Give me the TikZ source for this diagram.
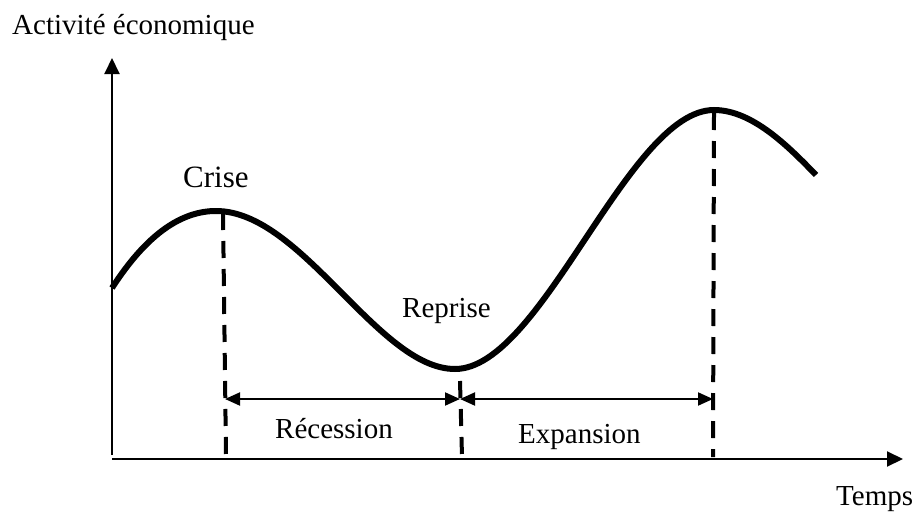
\documentclass[tikz,border=0pt]{standalone}
\usepackage{fontspec}
\setmainfont{Liberation Serif}
\usetikzlibrary{arrows.meta, positioning}
\definecolor{inkcol}{RGB}{0, 0, 0}
\tikzset{
  axis/.style      = {draw=inkcol, line width=2pt,
                      -{Triangle[length=16pt, width=15pt]}},
  cycleline/.style = {draw=inkcol, line width=6pt},
  % the turning points are dropped onto the time axis with thick dashes
  phaseline/.style = {draw=inkcol, line width=4pt,
                      dash pattern=on 17pt off 11pt},
  span/.style      = {draw=inkcol, line width=2pt,
                      {Triangle[length=15pt, width=13pt]}-{Triangle[length=15pt, width=13pt]}},
  lbl/.style       = {font=\fontsize{29}{29}\selectfont, inner sep=0pt,
                      anchor=base west},
  biglbl/.style    = {lbl, font=\fontsize{31}{31}\selectfont},
}

\begin{document}
\begin{tikzpicture}[x=1pt, y=-1pt]

  \useasboundingbox (0,0) rectangle (917,511);

  %% ---------------- the axes ----------------
  \coordinate (orig)  at (112,459);
  \coordinate (yfoot) at (112,455);
  \coordinate (ytop)  at (112,58);
  \coordinate (xend)  at (903,459);
  \draw[axis] (yfoot) -- (ytop);
  \draw[axis] (orig) -- (xend);

  \node[lbl] (ylab) at (12,35)  {Activité économique};
  \node[lbl] (xlab) at (836,505) {Temps};

  %% ---------------- the cycle ----------------
  \coordinate (start)   at (112,288);
  \coordinate (crise)   at (216,211);
  \coordinate (reprise) at (455,369);
  \coordinate (boom)    at (714,110);
  \coordinate (stop)    at (816,175);
  \draw[cycleline] (start) .. controls (148,232) and (183,211) .. (crise)
                           .. controls (302,211) and (378,369) .. (reprise)
                           .. controls (542,369) and (628,110) .. (boom)
                           .. controls (752,110) and (788,146) .. (stop);

  \node[biglbl] (crlab) at (183,187) {Crise};
  \node[lbl]    (rplab) at (402,317) {Reprise};

  %% ---------------- the phases ----------------
  \coordinate (d1top) at (223,213);
  \coordinate (d1bot) at (226,457);
  \coordinate (d2top) at (460,381);
  \coordinate (d2bot) at (462,457);
  \coordinate (d3top) at (714,113);
  \coordinate (d3bot) at (713,457);
  \foreach \t/\b in {d1top/d1bot, d2top/d2bot, d3top/d3bot}
    \draw[phaseline] (\t) -- (\b);

  \coordinate (recl) at (225,399);
  \coordinate (recr) at (460,399);
  \coordinate (expr) at (713,399);
  \draw[span] (recl) -- (recr);
  \draw[span] (recr) -- (expr);

  \node[lbl] (reclab) at (275,438) {Récession};
  \node[lbl] (explab) at (518,443) {Expansion};

\end{tikzpicture}
\end{document}
